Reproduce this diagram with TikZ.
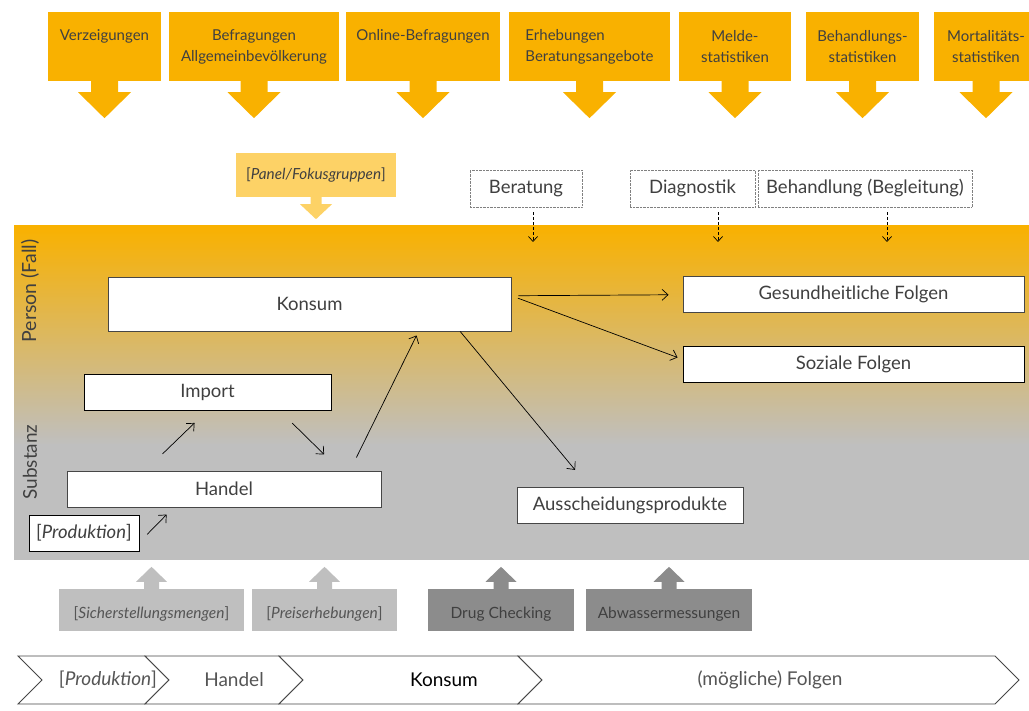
\documentclass[tikz,border=0pt]{standalone}
\usepackage{fontspec}
\setmainfont{Lato}
\usetikzlibrary{arrows.meta,calc}

\definecolor{srcorange}{RGB}{249,177,0}
\definecolor{srclight}{RGB}{253,210,102}
\definecolor{srcgray}{RGB}{191,191,191}
\definecolor{srcdark}{RGB}{140,140,140}
\definecolor{txtgray}{RGB}{64,64,64}
\definecolor{txtlight}{RGB}{85,85,85}
\definecolor{linegray}{RGB}{70,70,70}

\begin{document}
\begin{tikzpicture}[x=1pt,y=-1pt,
        srcbox/.style={fill=srcorange, inner sep=0pt, minimum height=69pt, text=txtgray, font=\fontsize{15pt}{21pt}\selectfont},
        careBox/.style={draw=gray, densely dotted, fill=white, inner sep=0pt, minimum height=37pt, text=txtgray, font=\fontsize{18.5pt}{22pt}\selectfont},
        stage/.style={draw=linegray, line width=0.9pt, fill=white, inner sep=0pt, text=txtgray, font=\fontsize{18.5pt}{22pt}\selectfont},
        obs/.style={inner sep=0pt, minimum height=42pt, text height=20pt, text depth=3pt, font=\fontsize{15.5pt}{18pt}\selectfont},
        flow/.style={line width=0.7pt, -{Straight Barb[length=6pt,width=11pt]}},
        careflow/.style={line width=0.7pt, dashed, dash pattern=on 3pt off 2pt, -{Straight Barb[length=5pt,width=9pt]}},
        chev/.style={draw=linegray, line width=0.9pt, fill=white}]
        \useasboundingbox (0,0) rectangle (1029,711);

        % band: person (top) to substance (bottom)
        \shade[top color=srcorange, bottom color=srcgray] (14,226) rectangle (1029,445);
        \fill[srcgray] (14,444.5) rectangle (1029,560);
        \node[rotate=90, text=txtgray, font=\fontsize{19.5pt}{22pt}\selectfont] (lPerson) at (30,291) {Person (Fall)};
        \node[rotate=90, text=txtgray, font=\fontsize{19pt}{22pt}\selectfont] (lSubst) at (30,462) {Substanz};

        % data sources on top
        \foreach \nm/\cx/\w/\al/\txt in {verz/104.5/113/center/{Verzeigungen\\\phantom{g}},
                befr/254/170/center/{Befragungen\\Allgemeinbevölkerung},
                online/423/154/center/{Online-Befragungen\\\phantom{g}},
                erheb/589.5/161/left/{Erhebungen\\Beratungsangebote},
                melde/735/112/center/{Melde-\\statistiken},
                behst/862.5/113/center/{Behandlungs-\\statistiken},
                mort/986/104/center/{Mortalitäts-\\statistiken}} {
                \node[srcbox, minimum width=\w pt, align=\al] (\nm) at (\cx,46.5) {\txt};
                \fill[srcorange] ($(\nm.south)+(-13.5,-0.5)$) -- ++(0,11.5) -- ++(-13,0) -- ++(26.5,26)
                        -- ++(26.5,-26) -- ++(-13,0) -- ++(0,-11.5) -- cycle;
        }

        \node[fill=srclight, inner sep=0pt, minimum width=160pt, minimum height=44pt, text=txtgray,
                font=\fontsize{15.3pt}{18pt}\selectfont] (panel) at (316,175) {[\textit{Panel/Fokusgruppen}]};
        \fill[srclight] ($(panel.south)+(-5.5,-0.5)$) -- ++(0,7.5) -- ++(-10.5,0) -- ++(16,15)
                -- ++(16,-15) -- ++(-10.5,0) -- ++(0,-7.5) -- cycle;

        % care settings
        \node[careBox, minimum width=112pt] (ber) at (526,188.5) {Beratung};
        \node[careBox, minimum width=125pt] (diag) at (692.5,188.5) {Diagnostik};
        \node[careBox, minimum width=214pt] (behand) at (865,188.5) {Behandlung (Begleitung)};
        \coordinate (berEnd) at (533,242);
        \coordinate (diagEnd) at (718,242);
        \coordinate (behandEnd) at (887,242);
        \draw[careflow, shorten <=5pt] (ber.south -| berEnd) -- (berEnd);
        \draw[careflow, shorten <=5pt] (diag.south -| diagEnd) -- (diagEnd);
        \draw[careflow, shorten <=5pt] (behand.south -| behandEnd) -- (behandEnd);

        % stages
        \node[stage, minimum width=403pt, minimum height=54pt] (konsum) at (309.5,304) {Konsum};
        \node[stage, minimum width=247pt, minimum height=36pt, draw=black] (import) at (207.5,392) {Import};
        \node[stage, minimum width=314pt, minimum height=36pt] (handel) at (224,489) {Handel};
        \node[stage, minimum width=110pt, minimum height=36pt, draw=black] (prod) at (84,533) {[\textit{Produktion}]};
        \node[stage, minimum width=341pt, minimum height=36pt] (gesund) at (853.5,294.7) {Gesundheitliche Folgen};
        \node[stage, minimum width=341pt, minimum height=36pt, draw=black] (sozial) at (853.5,364.5) {Soziale Folgen};
        \node[stage, minimum width=226pt, minimum height=36pt] (aussch) at (630,505.3) {Ausscheidungsprodukte};

        \draw[flow, shorten <=11pt, shorten >=10pt] ($(prod.south east)!0.25!(prod.north east)$) -- ($(handel.south west)!0.34!(handel.south east)$);
        \draw[flow, shorten <=24pt, shorten >=18pt] ($(handel.north west)!0.25!(handel.north east)$) -- (import.south);
        \draw[flow, shorten <=18pt, shorten >=23pt] ($(import.south west)!0.79!(import.south east)$) -- ($(handel.north west)!0.87!(handel.north east)$);
        \draw[flow, shorten <=14.5pt, shorten >=4.5pt] ($(handel.north west)!0.9!(handel.north east)$) -- ($(konsum.south west)!0.77!(konsum.south east)$);
        \draw[flow, shorten >=22pt] ($(konsum.south west)!0.873!(konsum.south east)$) -- ($(aussch.north west)!0.32!(aussch.north east)$);
        \draw[flow, shorten <=7pt, shorten >=14pt] ($(konsum.north east)!0.35!(konsum.south east)$) -- (gesund.west);
        \draw[flow, shorten <=7pt, shorten >=5.3pt] ($(konsum.north east)!0.35!(konsum.south east)$) -- ($(sozial.north west)!0.36!(sozial.south west)$);

        % substance measurements
        \node[obs, fill=srcgray, minimum width=185pt, text=txtlight] (sich) at (151.5,610) {[\textit{Sicherstellungsmengen}]};
        \node[obs, fill=srcgray, minimum width=145pt, text=txtlight] (preis) at (324.5,610) {[\textit{Preiserhebungen}]};
        \node[obs, fill=srcdark, minimum width=146pt, text=txtgray] (drug) at (501,610) {Drug Checking};
        \node[obs, fill=srcdark, minimum width=166pt, text=txtgray] (abw) at (669,610) {Abwassermessungen};
        \foreach \nm/\col in {sich/srcgray, preis/srcgray, drug/srcdark, abw/srcdark} {
                \fill[\col] ($(\nm.north)+(-7.5,0.5)$) -- ++(0,-7.5) -- ++(-8,0) -- ++(15.5,-15)
                        -- ++(15.5,15) -- ++(-8,0) -- ++(0,7.5) -- cycle;
        }

        % process chain
        \foreach \a/\b/\tx/\nm/\col/\txt in {18/145/108/cProd/txtlight/{[\textit{Produktion}]},
                145/279/234/cHandel/txtlight/Handel,
                279/518/444/cKonsum/black/Konsum,
                518/995/770/cFolgen/txtlight/(mögliche) Folgen} {
                \draw[chev] (\a,656) -- (\b,656) -- (\b+24,680) -- (\b,704) -- (\a,704) -- (\a+24,680) -- cycle;
                \node[text=\col, font=\fontsize{19pt}{22pt}\selectfont] (\nm) at (\tx,680) {\txt};
        }
\end{tikzpicture}
\end{document}
